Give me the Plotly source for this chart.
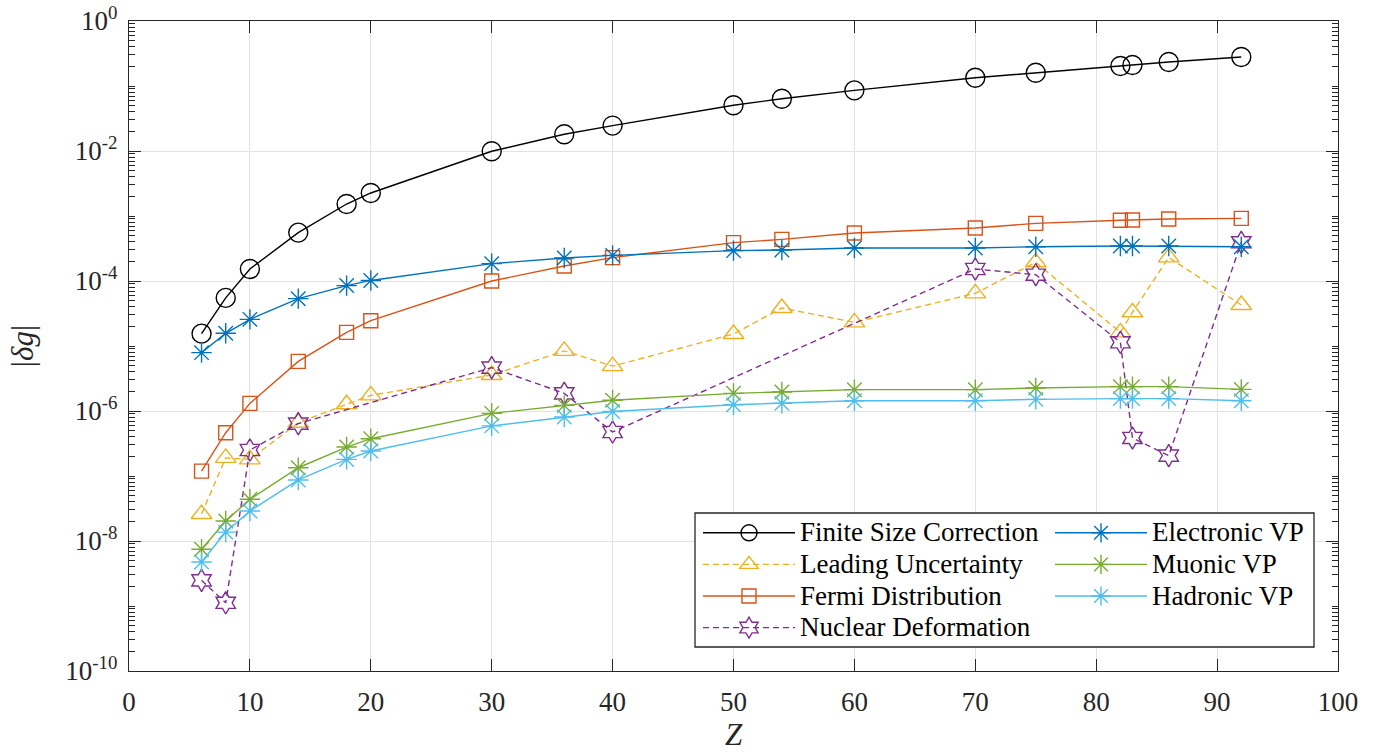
import plotly.graph_objects as go

Z_all = [6, 8, 10, 14, 18, 20, 30, 36, 40, 50, 54, 60, 70, 75, 82, 83, 86, 92]
Z_def = [6, 8, 10, 14, 30, 36, 40, 70, 75, 82, 83, 86, 92]

finite = [1.55e-5, 5.5e-5, 1.53e-4, 5.55e-4, 1.53e-3, 2.26e-3, 9.9e-3, 0.0181, 0.0246,
          0.0505, 0.0638, 0.0857, 0.134, 0.160, 0.203, 0.21, 0.234, 0.28]
leading = [2.6e-8, 1.9e-7, 1.8e-7, 6.6e-7, 1.27e-6, 1.74e-6, 3.58e-6, 8.4e-6, 4.9e-6,
           1.53e-5, 3.85e-5, 2.31e-5, 6.46e-5, 1.94e-4, 1.62e-5, 3.3e-5, 2.31e-4, 4.27e-5]
fermi = [1.19e-7, 4.64e-7, 1.31e-6, 5.8e-6, 1.62e-5, 2.45e-5, 1.0e-4, 1.70e-4, 2.29e-4,
         3.89e-4, 4.37e-4, 5.47e-4, 6.53e-4, 7.7e-4, 8.6e-4, 8.7e-4, 9.0e-4, 9.2e-4]
deform = [2.48e-9, 1.12e-9, 2.51e-7, 6.4e-7, 4.65e-6, 1.87e-6, 4.75e-7,
          1.53e-4, 1.25e-4, 1.14e-5, 3.85e-7, 2.06e-7, 3.94e-4]
electronic = [7.9e-6, 1.57e-5, 2.57e-5, 5.35e-5, 8.5e-5, 1.02e-4, 1.85e-4, 2.26e-4, 2.48e-4,
              2.93e-4, 3.0e-4, 3.22e-4, 3.22e-4, 3.37e-4, 3.45e-4, 3.45e-4, 3.45e-4, 3.37e-4]
muonic = [7.45e-9, 2.03e-8, 4.38e-8, 1.34e-7, 2.79e-7, 3.75e-7, 9.2e-7, 1.22e-6, 1.46e-6,
          1.87e-6, 1.96e-6, 2.13e-6, 2.13e-6, 2.26e-6, 2.37e-6, 2.37e-6, 2.37e-6, 2.15e-6]
hadronic = [4.75e-9, 1.37e-8, 2.9e-8, 8.7e-8, 1.8e-7, 2.42e-7, 5.9e-7, 8.1e-7, 9.8e-7,
            1.25e-6, 1.31e-6, 1.44e-6, 1.44e-6, 1.51e-6, 1.55e-6, 1.55e-6, 1.55e-6, 1.44e-6]

x_ticks = list(range(0, 101, 10))
y_ticks = [1e-10, 1e-8, 1e-6, 1e-4, 1e-2, 1e0]
y_ticktext = ["10<sup>-10</sup>", "10<sup>-8</sup>", "10<sup>-6</sup>", "10<sup>-4</sup>",
              "10<sup>-2</sup>", "10<sup>0</sup>"]

series = [
    ("Finite Size Correction", Z_all, finite, "#000000", "circle-open", 19, "solid", "legend"),
    ("Leading Uncertainty", Z_all, leading, "#EDB120", "triangle-up-open", 18, "6px,4px", "legend"),
    ("Fermi Distribution", Z_all, fermi, "#D95319", "square-open", 14, "solid", "legend"),
    ("Nuclear Deformation", Z_def, deform, "#7E2F8E", "hexagram-open", 17, "6px,4px", "legend"),
    ("Electronic VP", Z_all, electronic, "#0072BD", "asterisk-open", 17, "solid", "legend2"),
    ("Muonic VP", Z_all, muonic, "#77AC30", "asterisk-open", 17, "solid", "legend2"),
    ("Hadronic VP", Z_all, hadronic, "#4DBEEE", "asterisk-open", 17, "solid", "legend2"),
]

LEG_TXT = 27

fig = go.Figure()
for name, xs, ys, col, sym, size, dash, lg in series:
    fig.add_trace(go.Scatter(
        x=xs, y=ys,
        name='<span style="font-size:%dpx">%s</span>' % (LEG_TXT, name),
        mode="lines+markers",
        line=dict(color=col, width=1.4, dash=dash),
        marker=dict(symbol=sym, size=size, color=col, line=dict(color=col, width=1.4)),
        legend=lg,
    ))

font_family = "Liberation Serif"
axis_col = "#262626"
grid_col = "#E3E3E3"

minor_y = []
for k in range(-10, 0):
    for m in range(1, 10):
        v = m * 10.0 ** k
        if m == 1 and k % 2 == 0:
            continue
        minor_y.append(v)

W, H = 1391, 752
OFF = 0  # body margin removed via post_script
L, T = 129, 21
pw, ph = 1209, 650
R = W - L - pw
B = H - T - ph


def px_x(p):
    return (p - OFF - L) / pw


def px_y(p):
    return (H - B - (p - OFF)) / ph


fig.update_layout(
    width=W, height=H,
    margin=dict(l=L, r=R, t=T, b=B, autoexpand=False),
    paper_bgcolor="white", plot_bgcolor="white",
    font=dict(family=font_family, size=27, color=axis_col),
    xaxis=dict(
        range=[0, 100], tickmode="array", tickvals=x_ticks, automargin=False,
        ticks="inside", ticklen=12, tickwidth=1.3, tickcolor=axis_col,
        showline=True, linecolor=axis_col, linewidth=1.3, mirror="ticks",
        showgrid=True, gridcolor=grid_col, gridwidth=1, zeroline=False,
        title=dict(text="<i>Z</i>", standoff=4, font=dict(size=31)),
        tickfont=dict(size=27), ticklabelstandoff=6, ticklabeloverflow="allow",
    ),
    yaxis=dict(
        type="log", range=[-10, 0], tickmode="array", tickvals=y_ticks, ticktext=y_ticktext,
        automargin=False,
        ticks="inside", ticklen=12, tickwidth=1.3, tickcolor=axis_col,
        showline=True, linecolor=axis_col, linewidth=1.3, mirror="ticks",
        showgrid=True, gridcolor=grid_col, gridwidth=1, zeroline=False,
        minor=dict(tickmode="array", tickvals=minor_y, ticks="inside", ticklen=6,
                   tickwidth=1.1, tickcolor=axis_col, showgrid=False),
        title=dict(text="|<i>δg</i>|", standoff=22, font=dict(size=31)),
        tickfont=dict(size=27), ticklabelstandoff=5, ticklabeloverflow="allow",
    ),
    legend=dict(
        x=px_x(698), y=px_y(512), xanchor="left", yanchor="top",
        bgcolor="rgba(0,0,0,0)", borderwidth=0, itemwidth=92,
        font=dict(family=font_family, size=22, color="#000000"),
        tracegroupgap=0, traceorder="normal",
    ),
    legend2=dict(
        x=px_x(1050), y=px_y(512), xanchor="left", yanchor="top",
        bgcolor="rgba(0,0,0,0)", borderwidth=0, itemwidth=92,
        font=dict(family=font_family, size=22, color="#000000"),
        tracegroupgap=0, traceorder="normal",
    ),
    shapes=[dict(
        type="rect", xref="paper", yref="paper",
        x0=px_x(695), x1=px_x(1314), y0=px_y(647), y1=px_y(513),
        line=dict(color="#262626", width=1.3), fillcolor="white", layer="above",
    )],
)

fig.write_html("out.html",
               config={"displayModeBar": False},
               post_script="document.body.style.margin='0';document.body.style.padding='0';")
